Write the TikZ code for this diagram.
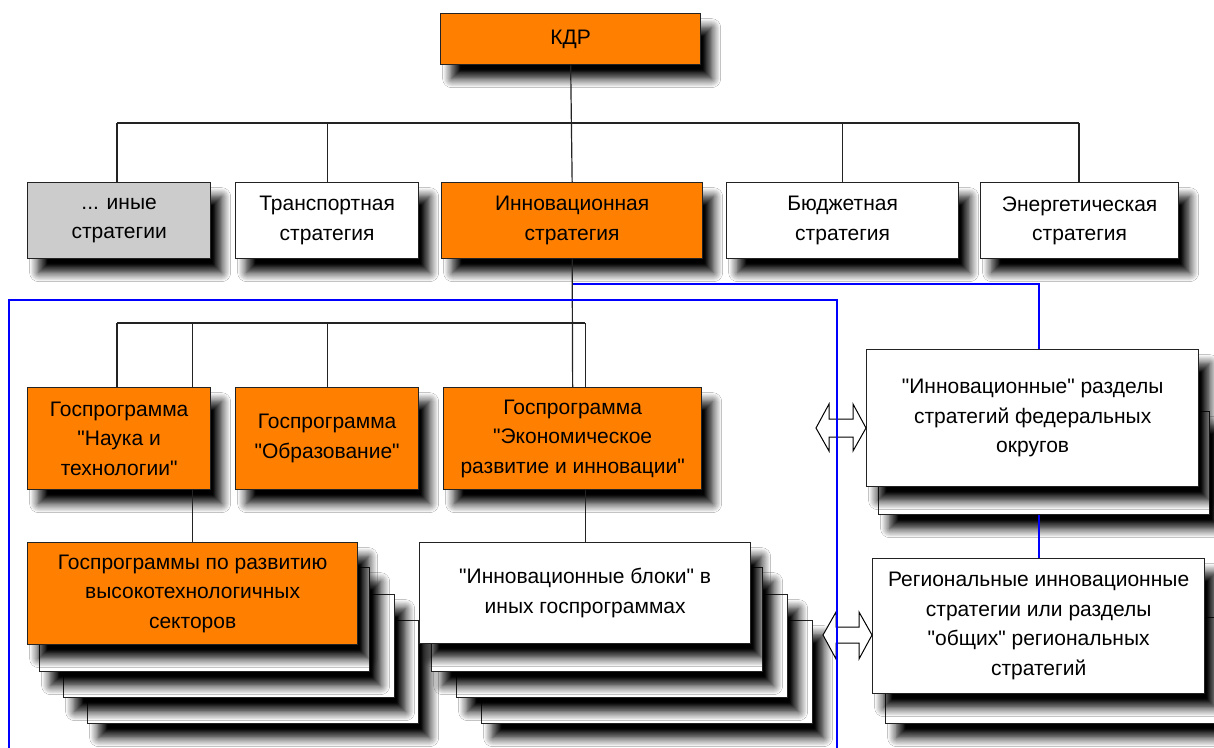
\documentclass[tikz,border=0pt]{standalone}
\usepackage{fontspec}
\setmainfont{Liberation Sans}
\newfontfamily\boxfont{Liberation Sans}[Ligatures=Common]
\usetikzlibrary{shadows.blur}
\definecolor{orng}{RGB}{255,128,0}
\definecolor{gry}{RGB}{204,204,204}
\definecolor{edge}{RGB}{35,35,35}
\tikzset{
  box/.style={draw=edge, line width=1.3pt, fill=white, anchor=north west, align=center, inner sep=2pt,
    font=\boxfont\fontsize{21}{29.5}\selectfont,
    blur shadow={shadow xshift=11pt, shadow yshift=-14pt, shadow blur radius=9pt, shadow blur steps=10, shadow opacity=100}},
  obox/.style={box, fill=orng},
  gbox/.style={box, fill=gry},
  conn/.style={draw=edge, line width=1.2pt},
  bconn/.style={draw=blue, line width=1.3pt},
  blockarrow/.style={draw=black, fill=white, line width=1pt, line join=miter}
}
\begin{document}
\begin{tikzpicture}[x=1pt,y=-1pt]
\useasboundingbox (0,0) rectangle (1214,747);
\clip (0,0) rectangle (1214,747);
\fill[white] (0,0) rectangle (1214,747);

% top level
\node[obox, minimum width=260pt, minimum height=51pt] (kdr) at (440,13) {КДР};
\node[gbox, minimum width=183pt, minimum height=76pt] (inye) at (27,182) {... иные\\стратегии};
\node[box, minimum width=183pt, minimum height=76pt] (trans) at (235,182) {Транспортная\\стратегия};
\node[obox, minimum width=261pt, minimum height=76pt] (innov) at (441,182) {Инновационная\\стратегия};
\node[box, minimum width=232pt, minimum height=76pt] (budg) at (726,182) {Бюджетная\\стратегия};
\node[box, minimum width=198pt, minimum height=76pt] (energ) at (980,182) {Энергетическая\\стратегия};

% programmes
\node[obox, minimum width=183pt, minimum height=102pt] (nauka) at (27,387) {Госпрограмма\\"Наука и\\технологии"};
\node[obox, minimum width=183pt, minimum height=102pt] (obraz) at (235,387) {Госпрограмма\\"Образование"};
\node[obox, minimum width=258pt, minimum height=102pt] (econ) at (443,387) {Госпрограмма\\"Экономическое\\развитие и инновации"};

% left stack
\node[box, minimum width=331pt, minimum height=103pt] (hi4) at (87,620) {};
\node[box, minimum width=331pt, minimum height=103pt] (hi3) at (63,594) {};
\node[box, minimum width=330pt, minimum height=104pt] (hi2) at (39,567) {};
\node[obox, minimum width=330pt, minimum height=102pt] (hi) at (27,542) {Госпрограммы по развитию\\высокотехнологичных\\секторов};

% right stack
\node[box, minimum width=331pt, minimum height=103pt] (bl4) at (481,620) {};
\node[box, minimum width=331pt, minimum height=103pt] (bl3) at (456,594) {};
\node[box, minimum width=331pt, minimum height=104pt] (bl2) at (431,567) {};
\node[box, minimum width=331pt, minimum height=101pt] (bl) at (419,542) {"Инновационные блоки" в\\иных госпрограммах};

% federal / regional
\node[box, minimum width=331pt, minimum height=103pt] (fed2) at (878,411) {};
\node[box, minimum width=332pt, minimum height=137pt] (fed) at (866,349) {"Инновационные" разделы\\стратегий федеральных\\округов};
\node[box, minimum width=331pt, minimum height=106pt] (reg2) at (885,617) {};
\node[box, minimum width=332pt, minimum height=135pt] (reg) at (872,558) {Региональные инновационные\\стратегии или разделы\\"общих" региональных\\стратегий};

% black connectors
\coordinate (busL) at (117,123);
\coordinate (busR) at (1079,123);
\draw[conn] (kdr.south) -- (innov.north);
\draw[conn] (busL) -- (busR);
\draw[conn] (busL) -- (inye.north -| busL);
\draw[conn] (trans.north) -- (trans.north |- busL);
\draw[conn] (budg.north) -- (budg.north |- busL);
\draw[conn] (busR) -- (energ.north -| busR);

\draw[conn] (innov.south) -- (econ.north);
\coordinate (bus2L) at (117,323);
\draw[conn] (bus2L) -- (bus2L -| bl.north);
\draw[conn] (bus2L) -- (nauka.north -| bus2L);
\draw[conn] (hi.north |- bus2L) -- (hi.north |- nauka.north);
\draw[conn] (obraz.north) -- (obraz.north |- bus2L);
\draw[conn] (bl.north |- bus2L) -- (bl.north |- econ.north);
\draw[conn] (hi.north) -- (hi.north |- nauka.south);
\draw[conn] (bl.north) -- (bl.north |- econ.south);

% block double arrows
\draw[blockarrow] (816,428) -- (829,404) -- (829,419) -- (853,419) -- (853,404) -- (866,428)
  -- (853,451) -- (853,437) -- (829,437) -- (829,451) -- cycle;
\draw[blockarrow] (823,635) -- (836,612) -- (836,627) -- (859,627) -- (859,612) -- (872,635)
  -- (859,659) -- (859,643) -- (836,643) -- (836,659) -- cycle;

% blue lines
\draw[bconn] (9,760) -- (9,300) -- (837,300) -- (837,760);
\coordinate (bj) at (573,284);
\coordinate (bk) at (1039,284);
\draw[bconn] (bj) -- (bk) -- (bk |- fed.north);
\draw[bconn] (reg.north -| bk) -- (bk |- fed2.south);
\end{tikzpicture}
\end{document}
